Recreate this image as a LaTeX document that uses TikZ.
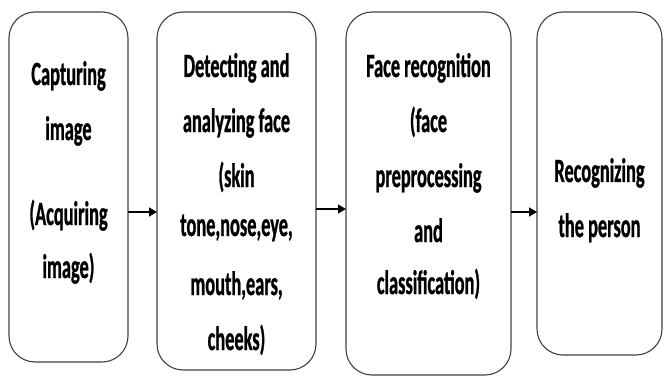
\documentclass[tikz,border=0pt]{standalone}
\usepackage{fontspec}
\setmainfont[FakeStretch=0.54,BoldFont={Carlito Bold},BoldFeatures={FakeBold=0.8}]{Carlito}
\usetikzlibrary{arrows.meta}
\begin{document}
\begin{tikzpicture}[x=1pt,y=-1pt,
  stage/.style={draw=black!75,line width=1.1pt,rounded corners=26pt},
  txt/.style={anchor=base,inner sep=0pt,font=\fontsize{34}{40}\selectfont\bfseries},
  flow/.style={draw=black,line width=1.6pt,-{Triangle[length=8pt,width=9pt]}}]
\useasboundingbox (0,0) rectangle (664,377);
% boxes
\draw[stage] (9,12) rectangle (128,362);
\draw[stage] (157,12) rectangle (316,370);
\draw[stage] (346,12) rectangle (511,375);
\draw[stage] (537,12) rectangle (662,355);
\coordinate (b1r) at (128,212);
\coordinate (b2l) at (157,212);
\coordinate (b2r) at (316,209);
\coordinate (b3l) at (346,209);
\coordinate (b3r) at (511,212);
\coordinate (b4l) at (537,212);
% text box 1
\node[txt] (t11) at (68.5,85) {Capturing};
\node[txt] (t12) at (68.5,140) {image};
\node[txt] (t13) at (68.5,225) {(Acquiring};
\node[txt] (t14) at (68.5,278) {image)};
% text box 2
\node[txt] (t21) at (236.5,77) {Detecting and};
\node[txt] (t22) at (236.5,132) {analyzing face};
\node[txt] (t23) at (236.5,187) {(skin};
\node[txt] (t24) at (236.5,236) {tone,nose,eye,};
\node[txt] (t25) at (236.5,295) {mouth,ears,};
\node[txt] (t26) at (236.5,350) {cheeks)};
% text box 3
\node[txt] (t31) at (428.5,77) {Face recognition};
\node[txt] (t32) at (428.5,132) {(face};
\node[txt] (t33) at (428.5,187) {preprocessing};
\node[txt] (t34) at (428.5,242) {and};
\node[txt] (t35) at (428.5,294) {classification)};
% text box 4
\node[txt] (t41) at (599.5,182) {Recognizing};
\node[txt] (t42) at (599.5,237) {the person};
% arrows
\draw[flow] (b1r) -- (b2l);
\draw[flow] (b2r) -- (b3l);
\draw[flow] (b3r) -- (b4l);
\end{tikzpicture}
\end{document}
